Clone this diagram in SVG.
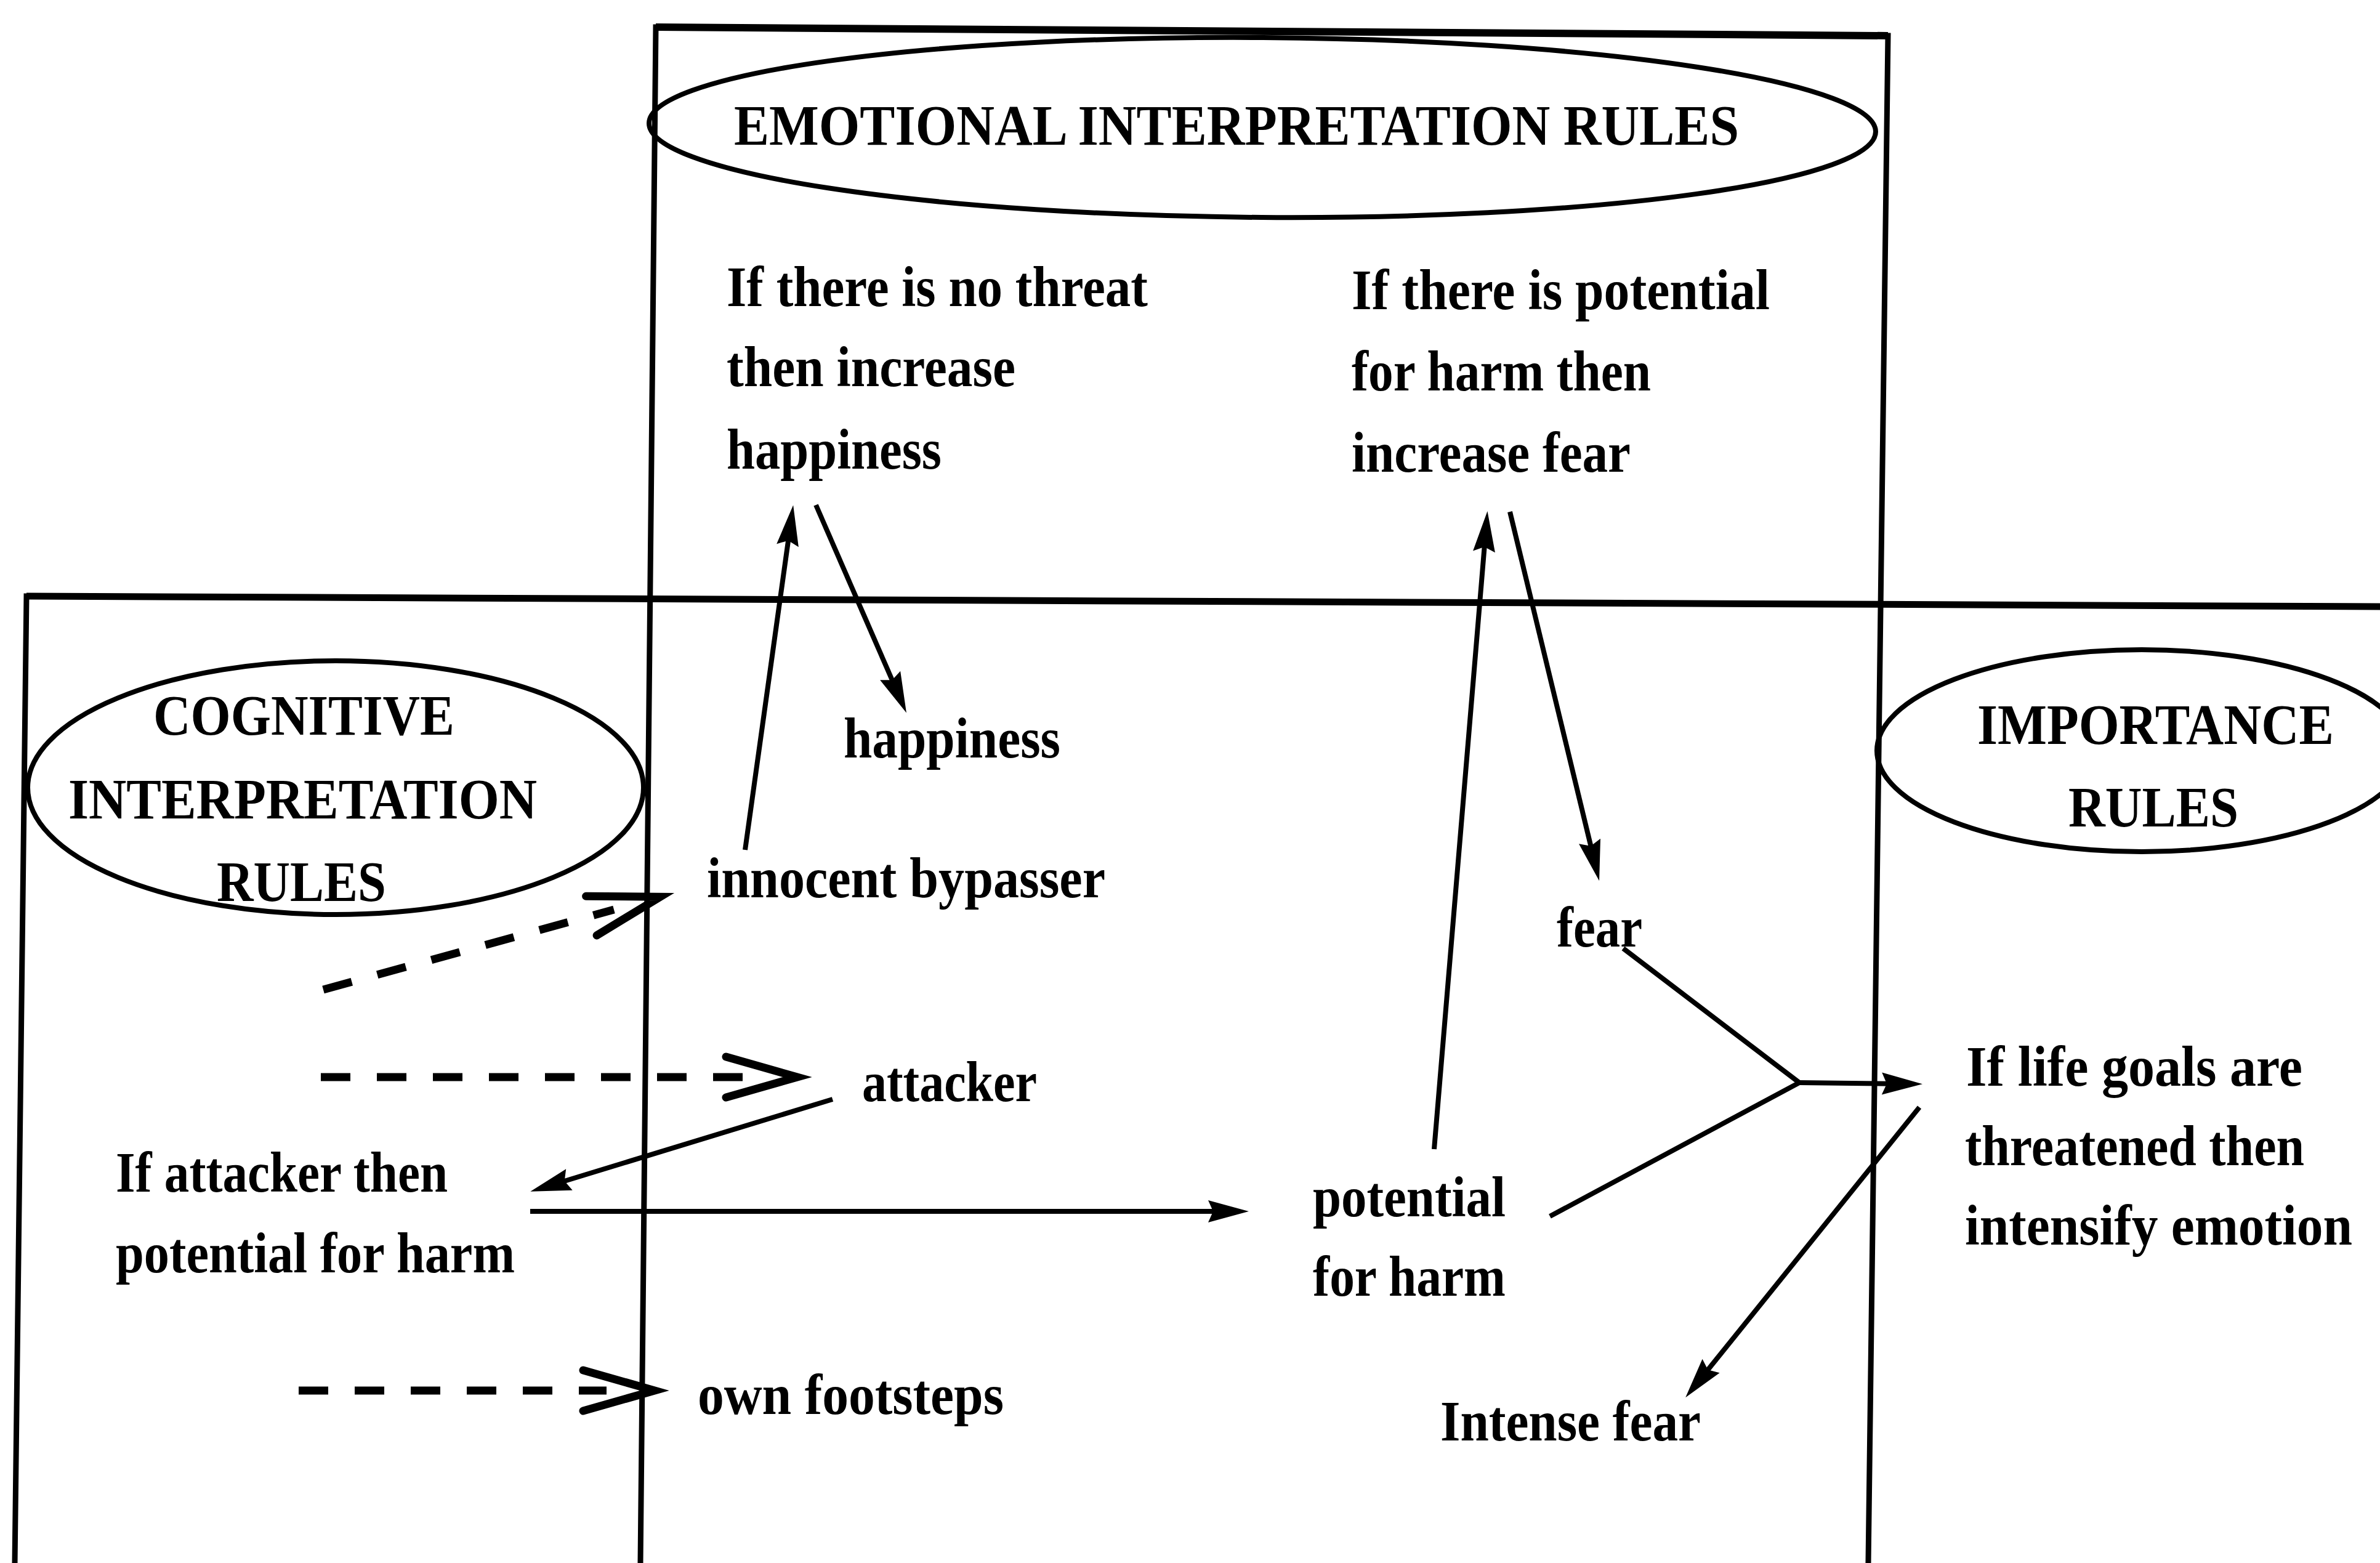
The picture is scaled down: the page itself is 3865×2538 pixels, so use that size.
<svg xmlns="http://www.w3.org/2000/svg" width="3865" height="2538" viewBox="0 0 3865 2538">
  <style>
    text { font-family: "Liberation Serif", "Times New Roman", serif; font-weight: bold; font-size: 94px; fill: #000; }
    .frame { fill: none; stroke: #000; stroke-width: 9; stroke-linecap: square; }
    .oval { fill: none; stroke: #000; stroke-width: 8; }
    .link { fill: none; stroke: #000; stroke-width: 8; }
    .dash { fill: none; stroke: #000; stroke-width: 13; stroke-dasharray: 48 43; }
  </style>
  <defs>
    <marker id="solidHead" markerUnits="userSpaceOnUse" viewBox="-70 -20 75 40" refX="-30" refY="0" markerWidth="75" markerHeight="40" orient="auto" overflow="visible">
      <path d="M0,0 L-66,-18 L-58,0 L-66,18 Z" fill="#000"/>
    </marker>
    <marker id="openHead" markerUnits="userSpaceOnUse" viewBox="-150 -45 160 90" refX="-100" refY="0" markerWidth="160" markerHeight="90" orient="auto" overflow="visible">
      <path d="M-138,-33 L-22,0 L-138,33" fill="none" stroke="#000" stroke-width="13" stroke-linejoin="miter" stroke-linecap="round"/>
    </marker>
  </defs>
  <rect width="3865" height="2538" fill="#fff"/>

  <!-- emotional interpretation rules: box with title oval -->
  <g id="emotional-rules">
    <path class="frame" d="M1040,2538 L1065,44 L3066,58 L3034,2538"/>
    <path d="M1065,44 L3066,58" fill="none" stroke="#000" stroke-width="12"/>
    <ellipse class="oval" cx="2050" cy="207" rx="996" ry="146" transform="rotate(0.4 2050 207)" stroke-width="9"/>
    <text x="1192" y="235" textLength="1632" lengthAdjust="spacingAndGlyphs">EMOTIONAL INTERPRETATION RULES</text>
  </g>

  <!-- cognitive interpretation rules: box with title oval -->
  <g id="cognitive-rules">
    <path class="frame" d="M24,2538 L43,968 L3865,985"/>
    <path d="M43,968 L3865,985" fill="none" stroke="#000" stroke-width="11"/>
    <ellipse class="oval" cx="545" cy="1279" rx="500" ry="206"/>
    <text x="249" y="1193" textLength="489" lengthAdjust="spacingAndGlyphs">COGNITIVE</text>
    <text x="111" y="1329" textLength="761" lengthAdjust="spacingAndGlyphs">INTERPRETATION</text>
    <text x="352" y="1463" textLength="275" lengthAdjust="spacingAndGlyphs">RULES</text>
  </g>

  <!-- importance rules title oval -->
  <g id="importance-rules">
    <ellipse class="oval" cx="3478" cy="1219" rx="430" ry="164" stroke-width="7"/>
    <text x="3211" y="1208" textLength="579" lengthAdjust="spacingAndGlyphs">IMPORTANCE</text>
    <text x="3359" y="1342" textLength="276" lengthAdjust="spacingAndGlyphs">RULES</text>
  </g>

  <g id="rule-no-threat">
    <text x="1180" y="497" textLength="684" lengthAdjust="spacingAndGlyphs">If there is no threat</text>
    <text x="1180" y="627" textLength="469" lengthAdjust="spacingAndGlyphs">then increase</text>
    <text x="1180" y="761" textLength="349" lengthAdjust="spacingAndGlyphs">happiness</text>
  </g>

  <g id="rule-harm">
    <text x="2195" y="502" textLength="679" lengthAdjust="spacingAndGlyphs">If there is potential</text>
    <text x="2195" y="634" textLength="486" lengthAdjust="spacingAndGlyphs">for harm then</text>
    <text x="2195" y="766" textLength="453" lengthAdjust="spacingAndGlyphs">increase fear</text>
  </g>

  <g id="happiness">
    <text x="1370" y="1230" textLength="352" lengthAdjust="spacingAndGlyphs">happiness</text>
  </g>

  <g id="innocent-bypasser">
    <text x="1148" y="1457" textLength="647" lengthAdjust="spacingAndGlyphs">innocent bypasser</text>
  </g>

  <g id="attacker">
    <text x="1400" y="1788" textLength="284" lengthAdjust="spacingAndGlyphs">attacker</text>
  </g>

  <g id="fear">
    <text x="2528" y="1537" textLength="139" lengthAdjust="spacingAndGlyphs">fear</text>
  </g>

  <g id="rule-attacker">
    <text x="188" y="1935" textLength="539" lengthAdjust="spacingAndGlyphs">If attacker then</text>
    <text x="188" y="2066" textLength="648" lengthAdjust="spacingAndGlyphs">potential for harm</text>
  </g>

  <g id="potential-harm">
    <text x="2132" y="1975" textLength="313" lengthAdjust="spacingAndGlyphs">potential</text>
    <text x="2132" y="2104" textLength="313" lengthAdjust="spacingAndGlyphs">for harm</text>
  </g>

  <g id="own-footsteps">
    <text x="1133" y="2296" textLength="497" lengthAdjust="spacingAndGlyphs">own footsteps</text>
  </g>

  <g id="intense-fear">
    <text x="2339" y="2339" textLength="423" lengthAdjust="spacingAndGlyphs">Intense fear</text>
  </g>

  <g id="rule-life-goals">
    <text x="3193" y="1763" textLength="546" lengthAdjust="spacingAndGlyphs">If life goals are</text>
    <text x="3191" y="1892" textLength="551" lengthAdjust="spacingAndGlyphs">threatened then</text>
    <text x="3191" y="2021" textLength="629" lengthAdjust="spacingAndGlyphs">intensify emotion</text>
  </g>

  <!-- connectors -->
  <g id="connectors">
    <!-- perceptions fed in from outside (dashed) -->
    <path class="dash" d="M525,1607 L997,1477" marker-end="url(#openHead)"/>
    <path class="dash" d="M521,1749 L1217,1749" marker-end="url(#openHead)"/>
    <path class="dash" d="M485,2258 L985,2258" marker-end="url(#openHead)"/>

    <!-- rule firings -->
    <path class="link" d="M1210,1380 L1284,850" stroke-width="7" marker-end="url(#solidHead)"/>
    <path class="link" d="M1325,820 L1460,1130" stroke-width="7" marker-end="url(#solidHead)"/>
    <path class="link" d="M2329,1866 L2413,860" stroke-width="6" marker-end="url(#solidHead)"/>
    <path class="link" d="M2452,831 L2590,1401" stroke-width="6" marker-end="url(#solidHead)"/>
    <path class="link" d="M1352,1785 L890,1926" stroke-width="9" marker-end="url(#solidHead)"/>
    <path class="link" d="M861,1967 L1998,1967" stroke-width="10" marker-end="url(#solidHead)"/>

    <!-- fear and potential for harm merge into the importance rule -->
    <path class="link" d="M2636,1540 L2922,1758" stroke-width="7"/>
    <path class="link" d="M2517,1975 L2922,1758" stroke-width="11"/>
    <path class="link" d="M2922,1758 L3092,1760" stroke-width="10" marker-end="url(#solidHead)"/>
    <path class="link" d="M3117,1798 L2756,2246" stroke-width="8" marker-end="url(#solidHead)"/>
  </g>
</svg>
